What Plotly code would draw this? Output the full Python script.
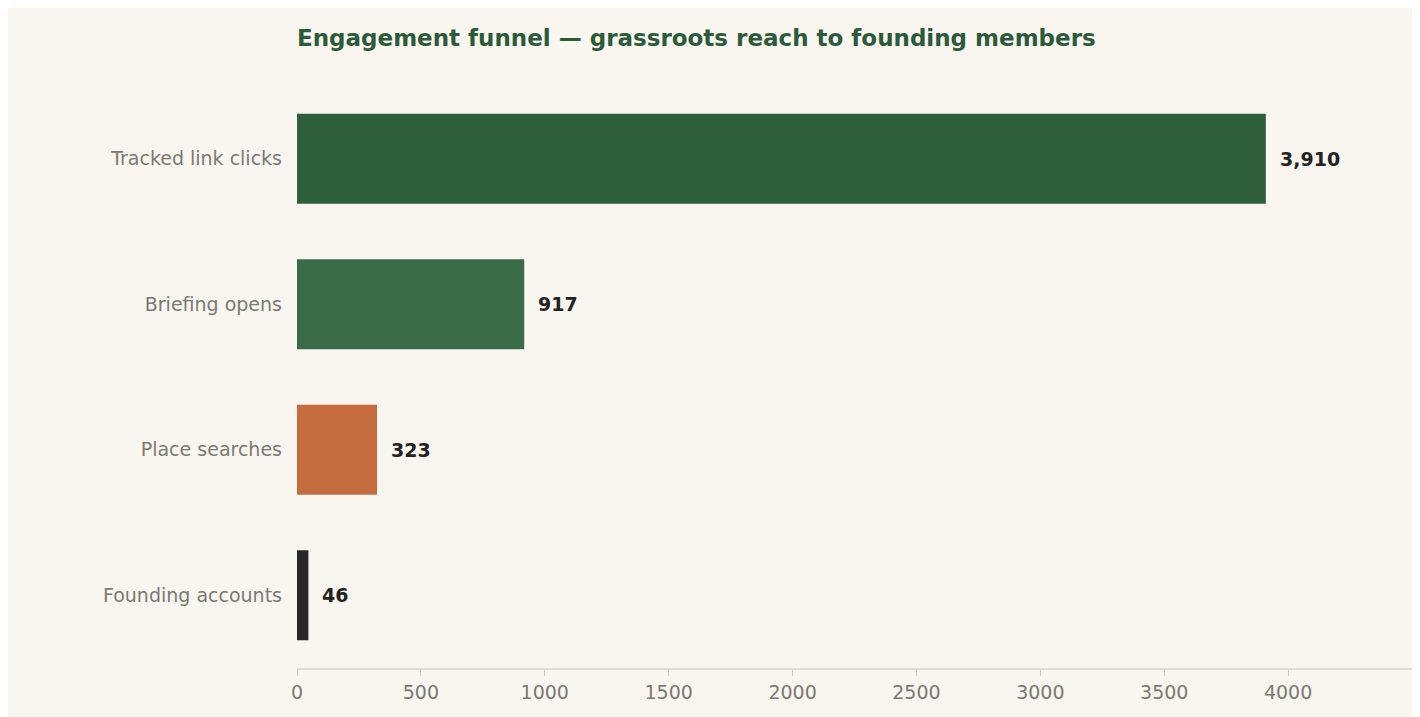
import plotly.graph_objects as go

# Data
stages = ["Tracked link clicks", "Briefing opens", "Place searches", "Founding accounts"]
counts = [3910, 917, 323, 46]
bar_colors = ["#2e5e3a", "#3a6b47", "#c56c3f", "#262626"]
x_ticks = [0, 500, 1000, 1500, 2000, 2500, 3000, 3500, 4000]

fig = go.Figure()
fig.add_trace(go.Bar(
    x=counts,
    y=stages,
    orientation="h",
    marker=dict(color=bar_colors, line_width=0),
    width=0.62,
    hoverinfo="skip",
))

for stage, n in zip(stages, counts):
    fig.add_annotation(
        x=n, y=stage, text=f"{n:,}",
        xanchor="left", yanchor="middle", xshift=12, showarrow=False,
        font=dict(family="DejaVu Sans", size=19, color="#222222", weight="bold"),
    )

fig.update_layout(
    width=1420, height=717,
    margin=dict(l=289, r=15, t=78, b=57),
    paper_bgcolor="#f9f6f0",
    plot_bgcolor="#f9f6f0",
    showlegend=False,
    title=dict(
        text="<b>Engagement funnel — grassroots reach to founding members</b>",
        x=289 / 1420, xanchor="left", y=0.958, yanchor="middle",
        font=dict(family="DejaVu Sans", size=23, color="#2d5a3a"),
    ),
    font=dict(family="DejaVu Sans", size=19, color="#7a7a72"),
)
fig.update_xaxes(
    range=[0, 4504], tickvals=x_ticks, showgrid=False, zeroline=False,
    showline=True, linecolor="#dddddd", linewidth=1.5,
    ticks="outside", ticklen=6, tickcolor="#cccccc",
    tickfont=dict(size=19, color="#7a7a72"),
)
fig.update_yaxes(
    categoryorder="array", categoryarray=stages, autorange="reversed",
    showgrid=False, zeroline=False, showline=False, ticks="",
    ticklabelstandoff=14,
    tickfont=dict(size=19, color="#7a7a72"),
)

fig.write_html("out.html")
